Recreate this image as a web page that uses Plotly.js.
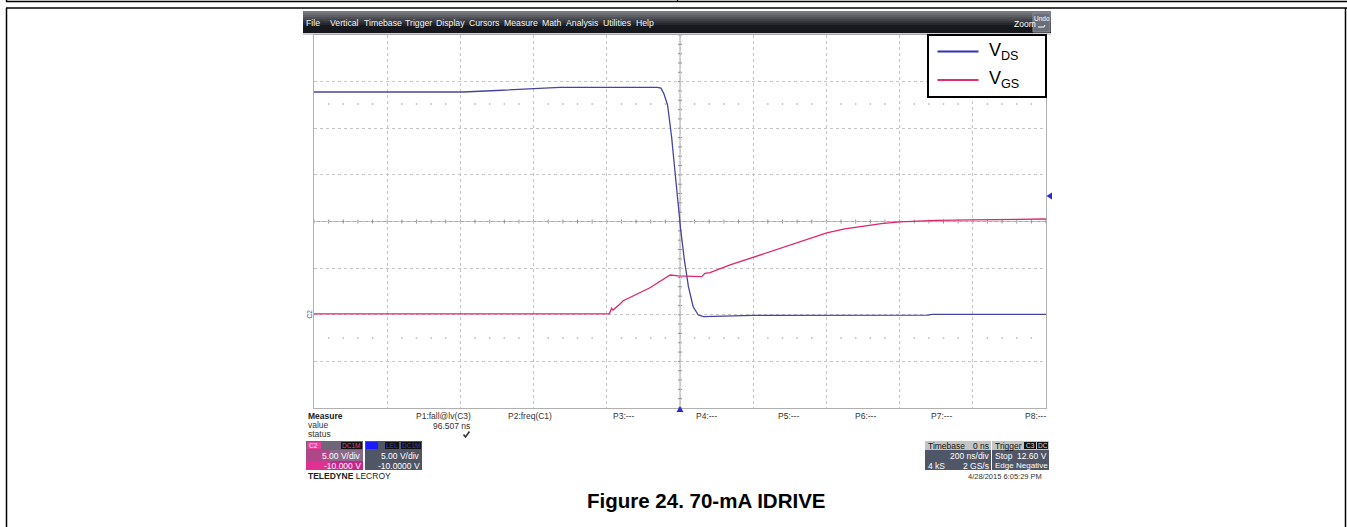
<!DOCTYPE html>
<html><head><meta charset="utf-8">
<script src="https://cdn.plot.ly/plotly-3.0.1.min.js"></script>
<style>html,body{margin:0;padding:0;background:#fff;}#chart{width:1347px;height:527px;}</style>
</head><body><div id="chart"></div>
<script>
// ---- data (time in ns, voltage in V) ----
const tVds = [-1000,-593,-501,-402,-328,-62,-52,-44,-34,-23,-14,-6,2,12,23,36,50,64,197,200,678,688,1000];
const vVds = [23.89,23.89,24.05,24.24,24.39,24.39,24.3,23.7,22.5,19.09,15.17,11.95,9.09,5.87,3.01,0.86,-0.03,-0.21,-0.13,-0.06,-0.03,0.05,0.05];
const tVgs = [-1000,-193,-187,-183,-164,-155,-82,-27,-5,36,59,68,82,137,200,246,301,350,401,450,501,550,601,650,701,801,900,1000];
const vVgs = [0.1,0.1,0.69,0.5,1.15,1.5,2.9,4.26,4.16,4.08,4.08,4.45,4.51,5.34,6.16,6.77,7.5,8.15,8.78,9.2,9.52,9.78,9.96,10.07,10.13,10.17,10.22,10.27];
const seriesNames = ["V<sub>DS</sub>","V<sub>GS</sub>"];
const menuItems = ["File","Vertical","Timebase","Trigger","Display","Cursors","Measure","Math","Analysis","Utilities","Help"];
const paramLabels = ["P1:fall@lv(C3)","P2:freq(C1)","P3:---","P4:---","P5:---","P6:---","P7:---","P8:---"];
const caption = "Figure 24. 70-mA IDRIVE";

const cVds = "#45459e", cVgs = "#e0246e";
const FONT = "Liberation Sans, Arial, sans-serif";
// pixel -> paper helpers (plot area: x 314..1046, y 35..408)
const L=314, W=732, T=35, H=373;
const px = x => (x-L)/W, py = y => (T+H-y)/H;

const shapes = [], ann = [];
function rect(x0,y0,x1,y1,fill,line,lw,layer){shapes.push({type:'rect',xref:'paper',yref:'paper',x0:px(x0),x1:px(x1),y0:py(y1),y1:py(y0),fillcolor:fill,line:{color:line||fill,width:lw===undefined?0:lw},layer:layer||'above'});}
function seg(x0,y0,x1,y1,color,w,layer){shapes.push({type:'line',xref:'paper',yref:'paper',x0:px(x0),x1:px(x1),y0:py(y0),y1:py(y1),line:{color:color,width:w},layer:layer||'above'});}
function txt(x,y,text,size,color,anchor,extra){ann.push(Object.assign({xref:'paper',yref:'paper',x:px(x),y:py(y),text:text,showarrow:false,xanchor:anchor||'left',yanchor:'middle',font:{family:FONT,size:size,color:color},borderpad:0},extra||{}));}

// outer document frame
seg(6,1.5,1347,1.5,'#000',1.5); seg(677.5,0,677.5,1.5,'#000',1.2); seg(6.5,0,6.5,1.5,'#000',1.5);
seg(6,8,1347,8,'#000',1.5); seg(6.5,8,6.5,527,'#000',1.5); seg(1345.5,8,1345.5,527,'#000',1.5);

// menu bar (gradient)
const nb=11;
for(let i=0;i<nb;i++){const f=i/(nb-1);const c=Math.round(120-(120-22)*Math.min(1,f*1.4));rect(303,11+i*2,1051,13+i*2,`rgb(${c},${c+2},${c+8})`);}
seg(303,34,1051,34,'#a0a0a0',1);
const menuX=[305,329,363,404,435,468,503,541,565,602,635];
menuItems.forEach((m,i)=>txt(menuX[i],23,m,8.7,'#f4f4f4'));
txt(1013,24,'Zoom',8.5,'#ffffff');
rect(1033,13,1050,32,'#6a6e78','#8a8e98',1);
txt(1041.5,19,'Undo',6.5,'#ffffff','center');
shapes.push({type:'path',xref:'paper',yref:'paper',path:`M ${px(1038)},${py(27)} L ${px(1044)},${py(27)} L ${px(1045)},${py(25)}`,line:{color:'#ffffff',width:1}});

// center crosshair with minor ticks
shapes.push({type:'line',xref:'x',yref:'paper',x0:0,x1:0,y0:0,y1:1,line:{color:'#a8a8a8',width:1},layer:'below'});
shapes.push({type:'line',xref:'paper',yref:'y',x0:0,x1:1,y0:10,y1:10,line:{color:'#a8a8a8',width:1},layer:'below'});
for(let v=-10;v<=30;v+=1){shapes.push({type:'line',xref:'x',yref:'y',xsizemode:'pixel',xanchor:0,x0:-2,x1:2,y0:v,y1:v,line:{color:'#909090',width:1},layer:'below'});}
for(let t=-1000;t<=1000;t+=40){shapes.push({type:'line',xref:'x',yref:'y',ysizemode:'pixel',yanchor:10,y0:-2,y1:2,x0:t,x1:t,line:{color:'#909090',width:1},layer:'below'});}
// faint dotted marker rows
[22.6,-2.5].forEach(v=>{for(let t=-960;t<1000;t+=40){if(Math.abs(t%200)===0)continue;shapes.push({type:'line',xref:'x',yref:'y',ysizemode:'pixel',yanchor:v,y0:-1,y1:1,x0:t,x1:t,line:{color:'#c8c8c8',width:1.5},layer:'below'});}});

// markers: trigger position / level, channel ground label
shapes.push({type:'path',xref:'paper',yref:'paper',path:`M ${px(676.5)},${py(412)} L ${px(683.5)},${py(412)} L ${px(680)},${py(406)} Z`,fillcolor:'#2a2ad8',line:{width:0}});
shapes.push({type:'path',xref:'paper',yref:'paper',path:`M ${px(1052)},${py(192.5)} L ${px(1052)},${py(199.5)} L ${px(1046.5)},${py(196)} Z`,fillcolor:'#2a2ad8',line:{width:0}});
txt(308.5,314,'C2',6.5,'#3a4a9a','center',{textangle:-90});

// legend box
rect(928,35,1046,97,'#ffffff','#000000',2);
seg(937.5,51.5,978.5,51.5,'#3232b4',2.2); seg(937.5,80,978.5,80,'#e0306e',2.2);
txt(988,51,seriesNames[0],18,'#000'); txt(988,80,seriesNames[1],18,'#000');

// measure table
txt(307,416,'<b>Measure</b>',8.5,'#222'); txt(307,425,'value',8.5,'#333'); txt(307,434,'status',8.5,'#333');
const pX=[472,553,635,718,800,877,953,1047];
paramLabels.forEach((p,i)=>txt(pX[i],416,p,8.5,'#333','right'));
txt(471,426,'96.507 ns',8.5,'#333','right');
shapes.push({type:'path',xref:'paper',yref:'paper',path:`M ${px(463.5)},${py(434.5)} L ${px(465.5)},${py(437)} L ${px(469.5)},${py(431.5)}`,line:{color:'#333',width:1.6}});

// channel C2 descriptor
rect(306,441,363,470,'#6f6478');
rect(306,450,363,461,'#8a6a8a'); rect(306,450,330,461,'#b04888');
rect(306,461,363,470,'#c8248a'); rect(306,461,330,470,'#e03090');
rect(307,442,321,449,'#e8409a'); txt(308,445.5,'C2',6.5,'#ffffff');
rect(341,442,362,449,'#111111'); txt(361,445.5,'DC1M',6.5,'#e0409a','right');
txt(362,455.5,'5.00 V/div',8.5,'#ffffff','right'); txt(362,465.5,'-10.000 V',8.5,'#ffffff','right');
// channel C3 descriptor
rect(365,441,422,470,'#505666');
rect(366,442,378,449,'#1a1aff'); rect(385,442,399,449,'#111'); rect(401,442,421,449,'#111');
txt(392,445.5,'LEL',6.5,'#3a3ad0','center'); txt(411,445.5,'DC1M',6.5,'#3a3ad0','center');
txt(421,455.5,'5.00 V/div',8.5,'#ffffff','right'); txt(421,465.5,'-10.0000 V',8.5,'#ffffff','right');
txt(307,475.5,'<b>TELEDYNE</b> LECROY',8.5,'#222');

// timebase / trigger descriptors
rect(925,441,991,470,'#4e5668'); rect(925,441,991,450,'#c4c4c4');
txt(927,445.5,'Timebase',8.5,'#111'); txt(990,445.5,'0 ns',8.5,'#111','right');
txt(990,455.5,'200 ns/div',8.5,'#fff','right'); txt(927,465.5,'4 kS',8.5,'#fff'); txt(990,465.5,'2 GS/s',8.5,'#fff','right');
rect(992,441,1049,470,'#4e5668'); rect(992,441,1049,450,'#c4c4c4');
txt(994,445.5,'Trigger',8.5,'#111'); rect(1024,442,1036,449,'#111'); rect(1037,442,1048,449,'#111');
txt(1030,445.5,'C3',6.5,'#ddd','center'); txt(1042.5,445.5,'DC',6.5,'#ddd','center');
txt(994,455.5,'Stop',8.5,'#fff'); txt(1048,455.5,'12.60 V',8.5,'#fff','right');
txt(993.5,465.5,'Edge',8,'#fff'); txt(1048.5,465.5,'Negative',8,'#fff','right');
txt(1043,476,'4/28/2015 6:05:29 PM',7.5,'#333','right');

// caption
txt(706,500,'<b>'+caption+'</b>',20.5,'#000','center');

const traces = [
 {x:tVds,y:vVds,type:'scatter',mode:'lines',name:seriesNames[0],line:{color:cVds,width:1.3},hoverinfo:'skip'},
 {x:tVgs,y:vVgs,type:'scatter',mode:'lines',name:seriesNames[1],line:{color:cVgs,width:1.3},hoverinfo:'skip'}
];
const ax = {showticklabels:false,ticks:'',zeroline:false,showgrid:true,gridcolor:'#c4c4c4',griddash:'dot',gridwidth:1,showline:true,mirror:true,linecolor:'#b0b0b0',linewidth:1,fixedrange:true};
const layout = {
 width:1347,height:527,margin:{l:L,r:1347-L-W,t:T,b:527-T-H,pad:0},
 paper_bgcolor:'#ffffff',plot_bgcolor:'#ffffff',showlegend:false,hovermode:false,
 xaxis:Object.assign({},ax,{range:[-1000,1000],dtick:200,tick0:0}),
 yaxis:Object.assign({},ax,{range:[-10,30],dtick:5,tick0:0}),
 shapes:shapes,annotations:ann
};
Plotly.newPlot('chart',traces,layout,{staticPlot:true,displayModeBar:false});
</script></body></html>
